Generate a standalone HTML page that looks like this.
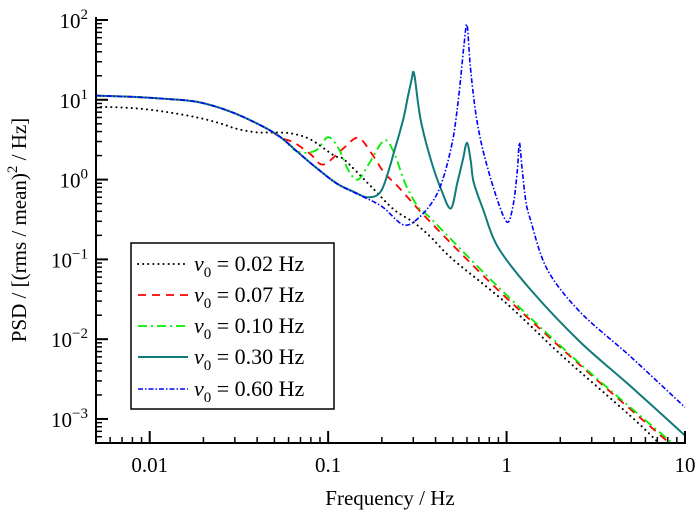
<!DOCTYPE html>
<html><head><meta charset="utf-8"><style>
body{margin:0;background:#fff}
svg{display:block;font-family:"Liberation Serif",serif}
</style></head><body>
<svg id="chart" width="700" height="517" viewBox="0 0 700 517">
<g id="curves"></g>
<g id="axes"></g>
<g id="legend"></g>
</svg>
<script>
const xTickValues=[0.01,0.1,1,10];
const xTickLabels=["0.01","0.1","1","10"];
const yTickExps=[-3,-2,-1,0,1,2];
const seriesNames=["0.02","0.07","0.10","0.30","0.60"];
const envFreq=[0.005,0.0079,0.0121,0.0185,0.0284,0.0433,0.0546];
const envPsd=[11.3,10.9,10.3,9.4,7.1,4.6,3.35];
const s1Freq=[0.005,0.0079,0.0121,0.0185,0.0253,0.031,0.04,0.0474,0.0613,0.0793,0.108,0.123,0.174,0.234,0.302,0.376,0.5,1.0,2.08,4.93,7.0];
const s1Psd=[8.2,7.9,7.1,6.0,5.0,4.3,3.9,3.9,3.8,3.2,2.0,1.78,0.82,0.42,0.29,0.19,0.1,0.028,0.006,0.0011,0.00052];
const s2Freq=[0.0646,0.0793,0.094,0.12,0.147,0.174,0.206,0.246,0.376,0.89,2.59,8.0];
const s2Psd=[2.9,2.1,1.54,2.4,3.35,2.17,1.22,0.82,0.29,0.042,0.0047,0.00052];
const s3Freq=[0.0671,0.085,0.1,0.115,0.13,0.147,0.17,0.206,0.234,0.27,0.318,0.376,0.89,2.59,8.3];
const s3Psd=[2.24,2.3,3.4,2.4,1.3,1.0,1.6,3.1,2.17,0.9,0.46,0.325,0.046,0.0049,0.00052];
const s4Freq=[0.0671,0.0857,0.112,0.14,0.167,0.2,0.24,0.265,0.28,0.295,0.3,0.307,0.33,0.376,0.43,0.487,0.53,0.57,0.6,0.63,0.654,0.74,0.89,1.36,2.59,4.93,10];
const s4Psd=[2.24,1.41,0.89,0.7,0.6,0.75,2.7,6,11,19,22.4,18,5.6,1.78,0.75,0.434,0.92,1.8,2.9,1.7,0.92,0.42,0.145,0.042,0.0092,0.0026,0.00062];
const s5Freq=[0.0671,0.0857,0.112,0.15,0.2,0.266,0.33,0.4,0.45,0.5,0.53,0.555,0.578,0.6,0.625,0.66,0.7,0.75,0.85,0.96,1.03,1.1,1.15,1.18,1.22,1.28,1.36,1.69,2.59,4.93,10];
const s5Psd=[2.24,1.41,0.89,0.64,0.46,0.27,0.35,0.61,1.2,3.2,8,20,50,87,28,9,4,2,0.75,0.35,0.3,0.55,1.33,2.9,1.4,0.55,0.316,0.075,0.0218,0.0061,0.0014];

const L=96,R=685,T=20,B=443;
const xmin=Math.log10(0.005),xmax=1,ymin=Math.log10(0.0005),ymax=2;
const X=f=>L+(Math.log10(f)-xmin)/(xmax-xmin)*(R-L);
const Y=p=>B-(Math.log10(p)-ymin)/(ymax-ymin)*(B-T);
const NS="http://www.w3.org/2000/svg";
function mk(tag,attrs,parent){const e=document.createElementNS(NS,tag);for(const k in attrs)e.setAttribute(k,attrs[k]);parent.appendChild(e);return e;}

function pathFrom(fr,ps){
  const pts=fr.map((f,i)=>[X(f),Y(ps[i])]);
  let d="M"+pts[0][0].toFixed(1)+","+pts[0][1].toFixed(1);
  for(let i=0;i<pts.length-1;i++){
    const p0=pts[Math.max(0,i-1)],p1=pts[i],p2=pts[i+1],p3=pts[Math.min(pts.length-1,i+2)];
    const t=0.16;
    const c1=[p1[0]+(p2[0]-p0[0])*t,p1[1]+(p2[1]-p0[1])*t];
    const c2=[p2[0]-(p3[0]-p1[0])*t,p2[1]-(p3[1]-p1[1])*t];
    d+="C"+c1.map(v=>v.toFixed(1)).join(",")+" "+c2.map(v=>v.toFixed(1)).join(",")+" "+p2[0].toFixed(1)+","+p2[1].toFixed(1);
  }
  return d;
}
const envCut=(limit)=>{const f=[],p=[];envFreq.forEach((v,i)=>{if(v<limit){f.push(v);p.push(envPsd[i]);}});return [f,p];};
const styles=[
 {c:"#000",w:2,da:"0.1 5",cap:"round"},
 {c:"#ff0000",w:1.8,da:"8 6",cap:"butt"},
 {c:"#00ee00",w:1.8,da:"9 4 2 4",cap:"butt"},
 {c:"#117a7a",w:2,da:"",cap:"butt"},
 {c:"#0000ff",w:1.6,da:"5 2 1.5 2",cap:"butt"}
];
const curves=document.getElementById("curves");
const data=[[s1Freq,s1Psd],[s2Freq,s2Psd],[s3Freq,s3Psd],[s4Freq,s4Psd],[s5Freq,s5Psd]];
data.forEach((sd,i)=>{
  let fr=sd[0],ps=sd[1];
  if(i>0){const e=envCut(fr[0]);fr=e[0].concat(fr);ps=e[1].concat(ps);}
  const p=mk("path",{d:pathFrom(fr,ps),fill:"none",stroke:styles[i].c,"stroke-width":styles[i].w,"stroke-dasharray":styles[i].da,"stroke-linecap":styles[i].cap},curves);
  
  
});
const ax=document.getElementById("axes");
mk("line",{x1:L,y1:T-3,x2:L,y2:B+1,stroke:"#000","stroke-width":2},ax);
mk("line",{x1:L-1,y1:B,x2:R+1,y2:B,stroke:"#000","stroke-width":2},ax);
for(let e=-3;e<=1;e++){for(let m=1;m<10;m++){const f=m*Math.pow(10,e);if(f<0.005||f>10)continue;const x=X(f);
  mk("line",{x1:x,y1:B,x2:x,y2:B-(m===1?12:6),stroke:"#000","stroke-width":m===1?2:1.5},ax);}}
for(let e=-4;e<=2;e++){for(let m=1;m<10;m++){const p=m*Math.pow(10,e);if(p<0.0005||p>100)continue;const y=Y(p);
  mk("line",{x1:L,y1:y,x2:L+(m===1?12:6),y2:y,stroke:"#000","stroke-width":m===1?2:1.5},ax);}}
xTickValues.forEach((v,i)=>{const t=mk("text",{x:X(v),y:472,"font-size":21,"text-anchor":"middle"},ax);t.textContent=xTickLabels[i];
  
  });
yTickExps.forEach(e=>{const y=Y(Math.pow(10,e));const t=mk("text",{x:88,y:y+8,"font-size":21,"text-anchor":"end"},ax);
  t.innerHTML='10<tspan dy="-9" font-size="15">'+(e<0?'\u2212'+(-e):e)+'</tspan>';
  
  });
const xt=mk("text",{x:390,y:505,"font-size":21,"text-anchor":"middle"},ax);xt.textContent="Frequency / Hz";


const yt=mk("text",{x:0,y:0,"font-size":21,"text-anchor":"middle",transform:"translate(26,230) rotate(-90)"},ax);
yt.innerHTML='PSD / [(rms / mean)<tspan dy="-9" font-size="15">2</tspan><tspan dy="9"> / Hz]</tspan>';


const lg=document.getElementById("legend");
const box=mk("rect",{x:131,y:243,width:203,height:166,fill:"#fff",stroke:"#000","stroke-width":1.5},lg);


const ly=[263,294,325,356,388];
seriesNames.forEach((n,i)=>{
  const g=mk("g",{},lg);
  
  
  mk("line",{x1:138,y1:ly[i]+1,x2:188,y2:ly[i]+1,stroke:styles[i].c,"stroke-width":styles[i].w,"stroke-dasharray":styles[i].da,"stroke-linecap":styles[i].cap},g);
  const t=mk("text",{x:194,y:ly[i]+8,"font-size":22},g);
  t.innerHTML='<tspan font-style="italic">v</tspan><tspan dy="6" font-size="15">0</tspan><tspan dy="-6"> = '+n+' Hz</tspan>';
});
</script>
</body></html>
